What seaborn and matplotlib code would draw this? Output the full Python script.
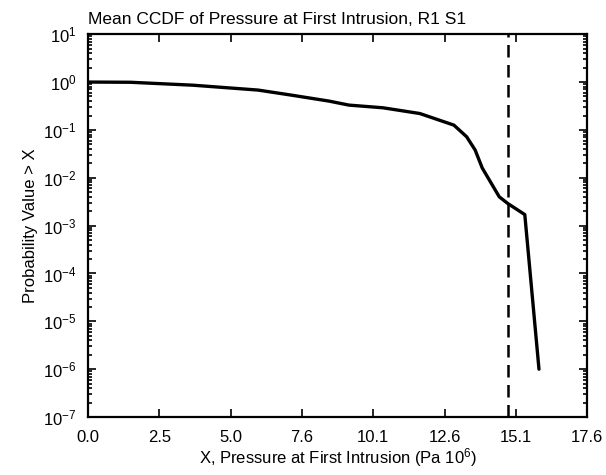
import numpy as np
import pandas as pd
import seaborn as sns
import matplotlib.pyplot as plt
from matplotlib.ticker import LogLocator, NullFormatter, FixedLocator

# ─── DATA ─────────────────────────────────────────
pressure = [0.0, 1.5, 3.7, 6.0, 7.2, 8.5, 9.2, 10.4, 11.7, 12.9,
            13.35, 13.65, 13.9, 14.5, 14.8, 15.4, 15.9]
prob = [1.0, 0.99, 0.86, 0.68, 0.53, 0.40, 0.33, 0.29, 0.22, 0.126,
        0.072, 0.038, 0.016, 0.004, 0.0029, 0.0017, 1.0e-6]
threshold = 14.8

x_tick_labels = ["0.0", "2.5", "5.0", "7.6", "10.1", "12.6", "15.1", "17.6"]
x_max = 17.6

df = pd.DataFrame({"pressure": pressure, "prob": prob})

# ─── STYLE ────────────────────────────────────────
sns.set_style("ticks")
plt.rcParams['font.family'] = ['Liberation Sans', 'DejaVu Sans']
plt.rcParams['mathtext.fontset'] = 'custom'
plt.rcParams['mathtext.rm'] = 'Liberation Sans'
plt.rcParams['mathtext.it'] = 'Liberation Sans'
plt.rcParams['text.color'] = 'black'
plt.rcParams['axes.labelcolor'] = 'black'

fig = plt.figure(figsize=(6.06, 4.75), dpi=100)
ax = fig.add_axes([0.145, 0.122, 0.824, 0.806])

sns.lineplot(data=df, x="pressure", y="prob", color="black",
             linewidth=2.4, ax=ax, estimator=None, sort=False)
ax.axvline(threshold, color="black", linewidth=1.8, linestyle=(0, (5, 3)))

ax.set_yscale("log")
ax.set_ylim(1e-7, 1e1)
ax.set_xlim(0, x_max)

ax.xaxis.set_major_locator(FixedLocator(np.linspace(0, x_max, len(x_tick_labels))))
ax.set_xticklabels(x_tick_labels)
ax.yaxis.set_major_locator(LogLocator(base=10, numticks=20))
ax.yaxis.set_minor_locator(LogLocator(base=10, subs=np.arange(2, 10), numticks=20))
ax.yaxis.set_minor_formatter(NullFormatter())

ax.tick_params(which="both", direction="in", top=True, right=True,
               labelsize=12, width=1.2, colors="black")
ax.tick_params(which="major", length=6)
ax.tick_params(which="minor", length=3)
ax.tick_params(axis="x", pad=9)
ax.tick_params(axis="y", pad=8)
for s in ax.spines.values():
    s.set_linewidth(1.6)
    s.set_color("black")

ax.set_xlabel("X, Pressure at First Intrusion (Pa 10$^6$)", fontsize=12,
              labelpad=1, color="black")
ax.set_ylabel("Probability Value > X", fontsize=12, labelpad=4, color="black")
ax.set_title("Mean CCDF of Pressure at First Intrusion, R1 S1",
             fontsize=12.5, loc="left", pad=7, color="black")

fig.savefig("out.png", dpi=100)
